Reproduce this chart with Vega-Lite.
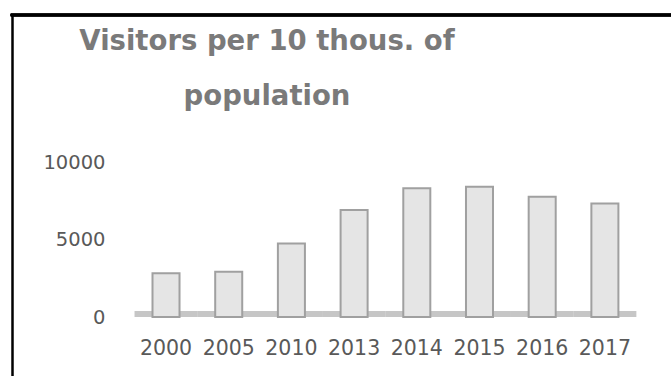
{
  "$schema": "https://vega.github.io/schema/vega-lite/v6.json",
  "width": 659,
  "height": 361,
  "padding": {"left": 12, "top": 15, "right": 0, "bottom": 0},
  "autosize": {"type": "none"},
  "background": "white",
  "config": {"view": {"stroke": null}, "font": "DejaVu Sans"},
  "title": {
    "text": ["Visitors per 10 thous. of", "population"],
    "anchor": "start",
    "frame": "group",
    "align": "center",
    "dx": 255,
    "orient": "top",
    "offset": -125,
    "fontSize": 27.5,
    "font": "DejaVu Sans",
    "fontWeight": "bold",
    "color": "#7a7a7a",
    "lineHeight": 55,
    "baseline": "bottom"
  },
  "data": {
    "values": [
      {"year": "2000", "visitors": 2820},
      {"year": "2005", "visitors": 2920},
      {"year": "2010", "visitors": 4750},
      {"year": "2013", "visitors": 6900},
      {"year": "2014", "visitors": 8300},
      {"year": "2015", "visitors": 8400},
      {"year": "2016", "visitors": 7760},
      {"year": "2017", "visitors": 7330}
    ]
  },
  "layer": [
    {
      "mark": {"type": "bar", "width": {"band": 2.33}, "color": "#c6c6c6"},
      "encoding": {
        "x": {
          "field": "year",
          "type": "nominal",
          "sort": null,
          "scale": {"type": "band", "paddingInner": 0.569, "paddingOuter": 0, "range": [140.5, 606.4]},
          "axis": {
            "orient": "top",
            "domain": false,
            "ticks": false,
            "tickSize": 0,
            "labelPadding": -333,
            "labelBaseline": "middle",
            "labelAngle": 0,
            "labelFontSize": 20.5,
            "labelFont": "DejaVu Sans",
            "labelColor": "#595959",
            "title": null
          }
        },
        "y": {
          "datum": 0,
          "type": "quantitative",
          "scale": {"domain": [-3806, 19484], "nice": false, "zero": false},
          "axis": {
            "orient": "left",
            "values": [0, 5000, 10000],
            "format": "d",
            "grid": false,
            "ticks": false,
            "tickSize": 0,
            "domain": true,
            "domainColor": "#000000",
            "domainWidth": 2.5,
            "domainCap": "square",
            "labelPadding": -93,
            "labelFontSize": 19.5,
            "labelFont": "DejaVu Sans",
            "labelColor": "#595959",
            "title": null
          }
        },
        "y2": {"datum": 390}
      }
    },
    {
      "mark": {"type": "bar", "fill": "#e5e5e5", "stroke": "#a0a0a0", "strokeWidth": 2},
      "encoding": {
        "x": {"field": "year", "type": "nominal", "sort": null},
        "y": {"field": "visitors", "type": "quantitative", "title": null},
        "y2": {"datum": 0}
      }
    },
    {
      "mark": {"type": "rule", "color": "#000000", "strokeWidth": 2.5, "strokeCap": "square"},
      "encoding": {
        "y": {"datum": 19484, "type": "quantitative"}
      }
    }
  ]
}
